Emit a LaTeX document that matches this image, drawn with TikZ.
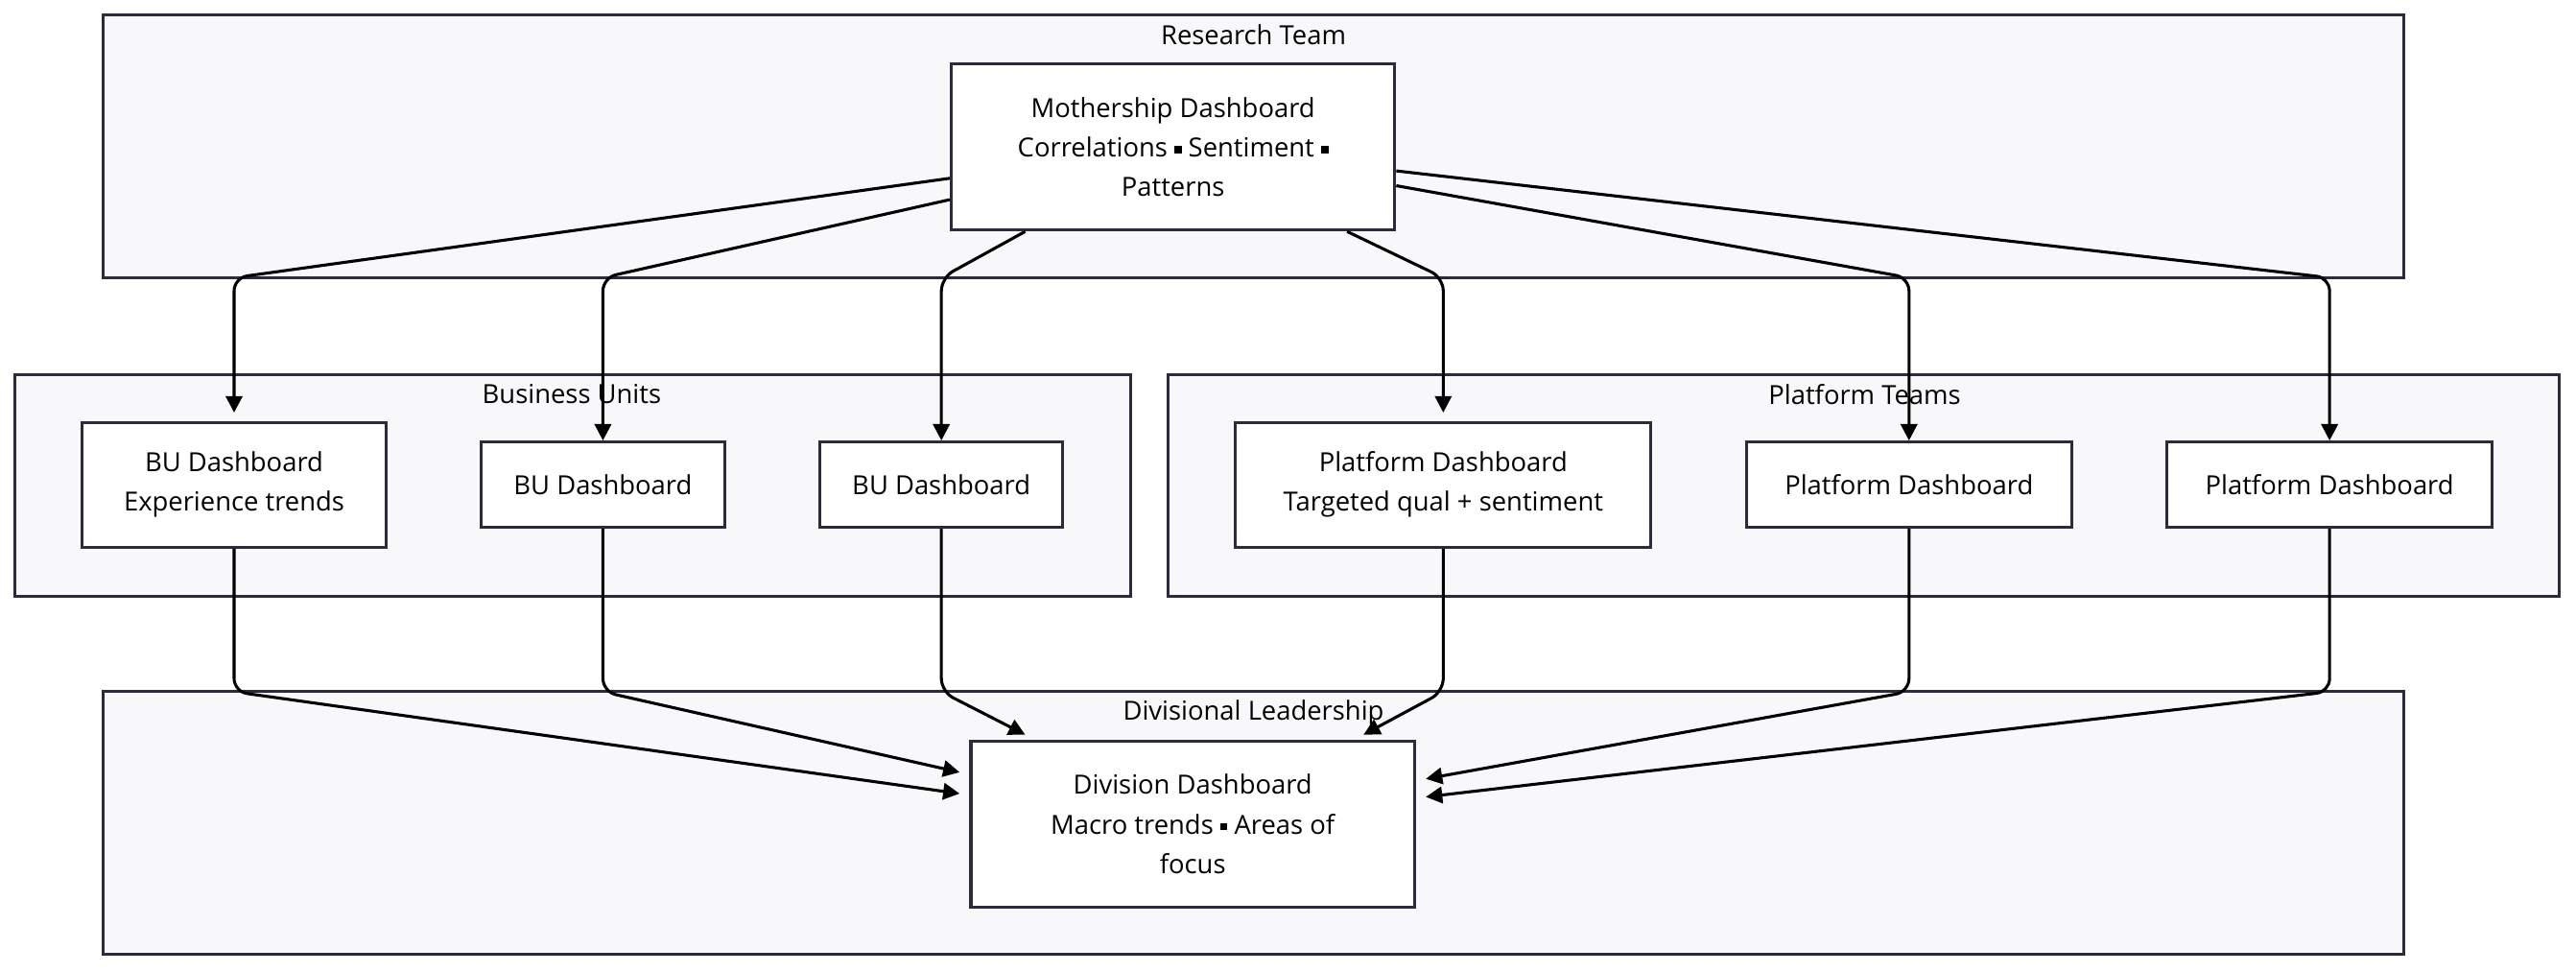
\documentclass[tikz,border=0pt]{standalone}
\usepackage{fontspec}
\setmainfont{Open Sans}
\usetikzlibrary{arrows.meta, calc, positioning}
\definecolor{groupfill}{HTML}{F8F8FA}
\definecolor{edgeink}{HTML}{2B2B3B}
\newcommand{\sqdot}{\raisebox{0.25ex}{\rule{2.2pt}{2.2pt}}}
\begin{document}
\begin{tikzpicture}[x=0.5pt, y=-0.5pt,
    font=\fontsize{8}{12}\selectfont,
    group/.style={draw=edgeink, fill=groupfill, line width=0.9pt},
    board/.style={draw=edgeink, fill=white, line width=0.9pt, align=center, inner sep=0pt},
    arr/.style={draw=black, line width=0.9pt, rounded corners=4, -{Triangle[length=5pt,width=5pt]}}]
  \useasboundingbox (0,0) rectangle (1568,591);
  % groups
  \draw[group] (63,9) rectangle (1463,169);
  \node at (763,21) {Research Team};
  \draw[group] (9,228) rectangle (688,363);
  \node at (348,240) {Business Units};
  \draw[group] (711,228) rectangle (1558,363);
  \node at (1135,240) {Platform Teams};
  \draw[group] (63,421) rectangle (1463,581);
  \node at (763,434) {Divisional Leadership};
  % dashboards
  \node[board, minimum width=135pt, minimum height=50.5pt] (ms) at (714,89.5) {Mothership Dashboard\\Correlations \sqdot{} Sentiment \sqdot\\Patterns};
  \node[board, minimum width=92.5pt, minimum height=38pt] (bu1) at (142.5,295) {BU Dashboard\\Experience trends};
  \node[board, minimum width=74pt, minimum height=26pt] (bu2) at (367,295) {BU Dashboard};
  \node[board, minimum width=74pt, minimum height=26pt] (bu3) at (573,295) {BU Dashboard};
  \node[board, minimum width=126.5pt, minimum height=38pt] (pf1) at (878.5,295) {Platform Dashboard\\Targeted qual + sentiment};
  \node[board, minimum width=99pt, minimum height=26pt] (pf2) at (1162,295) {Platform Dashboard};
  \node[board, minimum width=99pt, minimum height=26pt] (pf3) at (1418,295) {Platform Dashboard};
  \node[board, minimum width=135pt, minimum height=50.5pt] (dv) at (726,501.5) {Division Dashboard\\Macro trends \sqdot{} Areas of\\focus};
  \coordinate (topbend) at (0,169);
  \coordinate (lowbend) at (0,421);
  % research team to units
  \draw[arr] ($(ms.west)+(0,19)$) -- (bu1.north |- topbend) -- ($(bu1.north)+(0,-5)$);
  \draw[arr] ($(ms.west)+(0,32)$) -- (bu2.north |- topbend) -- (bu2.north);
  \draw[arr] ($(ms.south)+(-90,0)$) -- (bu3.north |- topbend) -- (bu3.north);
  \draw[arr] ($(ms.south)+(106,0)$) -- (pf1.north |- topbend) -- ($(pf1.north)+(0,-5)$);
  \draw[arr] ($(ms.east)+(0,23.5)$) -- (pf2.north |- topbend) -- (pf2.north);
  \draw[arr] ($(ms.east)+(0,14.5)$) -- (pf3.north |- topbend) -- (pf3.north);
  % units to leadership
  \draw[arr] (bu1.south) -- (bu1.south |- lowbend) -- ($(dv.west)+(-6,-18.5)$);
  \draw[arr] (bu2.south) -- (bu2.south |- lowbend) -- ($(dv.west)+(-6,-31.5)$);
  \draw[arr] (bu3.south) -- (bu3.south |- lowbend) -- ($(dv.north)+(-102,-3)$);
  \draw[arr] (pf1.south) -- (pf1.south |- lowbend) -- ($(dv.north)+(104,-3)$);
  \draw[arr] (pf2.south) -- (pf2.south |- lowbend) -- ($(dv.east)+(6,-27.5)$);
  \draw[arr] (pf3.south) -- (pf3.south |- lowbend) -- ($(dv.east)+(6,-16.5)$);
\end{tikzpicture}
\end{document}
